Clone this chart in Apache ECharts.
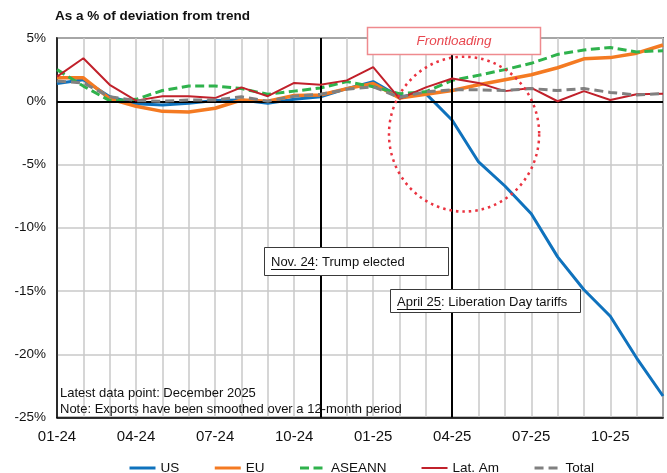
<!DOCTYPE html>
<html>
<head>
<meta charset="utf-8">
<script src="https://cdn.jsdelivr.net/npm/echarts@6/dist/echarts.min.js"></script>
<style>
html,body{margin:0;padding:0;background:#fff;}
#chart{width:667px;height:473px;}
</style>
</head>
<body>
<div id="chart"></div>
<script>
const categories = ["01-24","02-24","03-24","04-24","05-24","06-24","07-24","08-24","09-24","10-24","11-24","12-24",
                    "01-25","02-25","03-25","04-25","05-25","06-25","07-25","08-25","09-25","10-25","11-25","12-25"];
const usValues     = [1.4, 1.7, 0.35, -0.2, -0.3, -0.15, 0.05, 0.1, -0.15, 0.15, 0.35, 1.0, 1.55, 0.35, 0.6, -1.5, -4.8, -6.7, -8.9, -12.3, -14.9, -17.0, -20.3, -23.3];
const euValues     = [1.85, 1.85, 0.2, -0.4, -0.8, -0.85, -0.55, 0.1, 0.0, 0.45, 0.5, 1.0, 1.4, 0.25, 0.55, 0.85, 1.3, 1.7, 2.1, 2.65, 3.35, 3.45, 3.8, 4.45];
const aseannValues = [2.5, 1.2, 0.05, 0.15, 0.85, 1.2, 1.2, 1.0, 0.55, 0.8, 1.05, 1.55, 1.15, 0.6, 0.75, 1.65, 2.05, 2.5, 3.0, 3.7, 4.05, 4.25, 3.9, 4.0];
const latAmValues  = [1.95, 3.4, 1.3, 0.05, 0.4, 0.4, 0.25, 1.1, 0.4, 1.45, 1.3, 1.65, 2.7, 0.2, 1.1, 1.8, 1.45, 0.8, 1.05, 0.0, 0.8, 0.1, 0.55, 0.6];
const totalValues  = [1.6, 1.45, 0.35, 0.05, 0.0, 0.1, 0.1, 0.35, 0.0, 0.4, 0.55, 0.95, 1.15, 0.3, 0.75, 0.9, 0.9, 0.85, 1.0, 0.85, 1.0, 0.7, 0.5, 0.6];
const yTicks = {min: -25, max: 5, interval: 5};
const eventLines = ["11-24", "04-25"];

const FONT = "'Liberation Sans', Arial, sans-serif";
const chart = echarts.init(document.getElementById('chart'), null, {renderer: 'canvas'});

function lineSeries(name, data, color, width, dash, z) {
  return {
    name: name, type: 'line', data: data, symbol: 'none', z: z,
    lineStyle: {color: color, width: width, type: dash || 'solid'},
    itemStyle: {color: color},
    emphasis: {disabled: true}
  };
}

chart.setOption({
  animation: false,
  grid: {left: 57, right: 4, top: 38, bottom: 55.5, show: true, borderColor: '#000', borderWidth: 1.5, backgroundColor: 'transparent'},
  xAxis: {
    type: 'category', data: categories, boundaryGap: false,
    axisLine: {show: true, onZero: false, lineStyle: {color: '#000', width: 1.5}},
    axisTick: {show: false},
    axisLabel: {interval: 2, fontSize: 15, color: '#111', fontFamily: FONT, margin: 12},
    splitLine: {show: true, interval: 0, lineStyle: {color: '#c9c9c9', width: 1.5}}
  },
  yAxis: {
    type: 'value', min: yTicks.min, max: yTicks.max, interval: yTicks.interval,
    axisLine: {show: true, lineStyle: {color: '#000', width: 1.5}},
    axisTick: {show: false},
    axisLabel: {formatter: '{value}%', fontSize: 13.5, color: '#111', fontFamily: FONT, margin: 11},
    splitLine: {show: true, lineStyle: {color: '#c9c9c9', width: 1.5}}
  },
  legend: {
    left: 123, top: 456, itemWidth: 26, itemHeight: 14, itemGap: 34,
    itemStyle: {opacity: 0, borderWidth: 0},
    lineStyle: {width: 3},
    textStyle: {fontSize: 13.5, color: '#111', fontFamily: FONT},
    data: ['US', 'EU', 'ASEANN', {name: 'Lat. Am', lineStyle: {width: 2}}, 'Total'],
    selectedMode: false
  },
  series: [
    {
      name: 'refs', type: 'line', data: [], z: 1, silent: true,
      markLine: {
        silent: true, symbol: 'none', animation: false,
        label: {show: false},
        lineStyle: {color: '#000', width: 2, type: 'solid'},
        data: [{yAxis: 0}].concat(eventLines.map(c => ({xAxis: c})))
      }
    },
    lineSeries('US', usValues, '#0f72bd', 3, null, 3),
    lineSeries('EU', euValues, '#f47a22', 3.5, null, 3),
    lineSeries('ASEANN', aseannValues, '#2fb24c', 3, [9, 4.5], 4),
    lineSeries('Lat. Am', latAmValues, '#c1212b', 2, null, 5),
    lineSeries('Total', totalValues, '#808080', 3, [9, 5], 6)
  ]
});

// Annotations
const ctx = document.createElement('canvas').getContext('2d');
ctx.font = "13px " + FONT;
const w1 = ctx.measureText('Nov. 24').width;
const w2 = ctx.measureText('April 25').width;

// ellipse around the frontloading period (between Apr-25 and May-25)
const pA = chart.convertToPixel({gridIndex: 0}, ['04-25', -2.6]);
const pB = chart.convertToPixel({gridIndex: 0}, ['05-25', -2.6]);
const step = pB[0] - pA[0];
const cx = pA[0] + 0.45 * step;
const cy = pA[1];
const rx = 2.85 * step;
const pTop = chart.convertToPixel({gridIndex: 0}, ['04-25', -2.6 + 6.12]);
const ry = cy - pTop[1];

chart.setOption({
  graphic: [
    {type: 'text', left: 55, top: 9, z: 100,
     style: {text: 'As a % of deviation from trend', font: "bold 13.5px " + FONT, fill: '#111'}},
    {type: 'circle', x: cx, y: cy, scaleY: ry / rx, z: 50,
     shape: {cx: 0, cy: 0, r: rx},
     style: {fill: 'none', stroke: '#ea3340', lineWidth: 2.5, lineDash: [2.5, 4]}},
    {type: 'rect', shape: {x: 367.5, y: 27.5, width: 173, height: 27}, z: 60,
     style: {fill: '#fff', stroke: '#ef8a8e', lineWidth: 1.5}},
    {type: 'text', x: 454, y: 41, z: 61,
     style: {text: 'Frontloading', font: "italic 13.5px " + FONT, fill: '#e8474f', align: 'center', verticalAlign: 'middle'}},
    {type: 'rect', shape: {x: 264.5, y: 247.5, width: 184, height: 28}, z: 60,
     style: {fill: '#fff', stroke: '#3a3a3a', lineWidth: 1}},
    {type: 'text', x: 271, y: 262, z: 61,
     style: {text: 'Nov. 24: Trump elected', font: "13px " + FONT, fill: '#111', verticalAlign: 'middle'}},
    {type: 'line', z: 62, shape: {x1: 271, y1: 269.5, x2: 271 + w1, y2: 269.5}, style: {stroke: '#111', lineWidth: 1}},
    {type: 'rect', shape: {x: 390.5, y: 289.5, width: 190, height: 23}, z: 60,
     style: {fill: '#fff', stroke: '#3a3a3a', lineWidth: 1}},
    {type: 'text', x: 397, y: 302, z: 61,
     style: {text: 'April 25: Liberation Day tariffs', font: "13px " + FONT, fill: '#111', verticalAlign: 'middle'}},
    {type: 'line', z: 62, shape: {x1: 397, y1: 309.5, x2: 397 + w2, y2: 309.5}, style: {stroke: '#111', lineWidth: 1}},
    {type: 'text', x: 60, y: 393, z: 61,
     style: {text: 'Latest data point: December 2025', font: "13px " + FONT, fill: '#111', verticalAlign: 'middle'}},
    {type: 'text', x: 60, y: 409, z: 61,
     style: {text: 'Note: Exports have been smoothed over a 12-month period', font: "13px " + FONT, fill: '#111', verticalAlign: 'middle'}}
  ]
});
</script>
</body>
</html>
